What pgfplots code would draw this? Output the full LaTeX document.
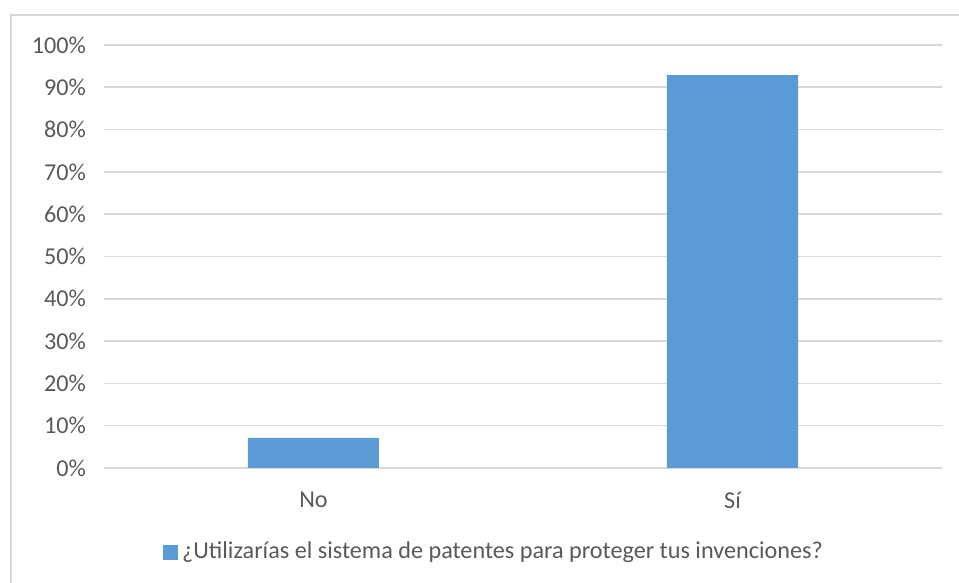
\documentclass[border=0pt]{standalone}
\usepackage{pgfplots}
\pgfplotsset{compat=1.18}
\usepackage{fontspec}
\setmainfont{Carlito}
\definecolor{barblue}{RGB}{91,155,213}
\definecolor{gridgray}{RGB}{217,217,217}
\definecolor{textgray}{RGB}{89,89,89}
\newcommand{\chartfont}{\fontsize{12.1}{14.5}\selectfont}
\begin{document}
\begin{tikzpicture}
\useasboundingbox (0pt,0pt) rectangle (479.5pt,291.5pt);
\begin{scope}
\clip (0pt,0pt) rectangle (479.5pt,291.5pt);
\draw[gridgray, line width=0.8pt] (5.5pt,-5pt) -- (5.5pt,284pt) -- (485pt,284pt);
\end{scope}
\begin{axis}[
  at={(52pt,57.5pt)}, anchor=south west,
  scale only axis,
  width=419pt, height=211.5pt,
  xmin=-0.5, xmax=1.5,
  ymin=0, ymax=100,
  xtick={0,1}, xticklabels={No,Sí},
  ytick={0,10,...,100},
  yticklabel={\pgfmathprintnumber{\tick}\%},
  /pgf/number format/assume math mode=true,
  axis line style={draw=none},
  major tick length=0pt,
  ymajorgrids,
  grid style={gridgray, line width=0.8pt},
  tick label style={font=\chartfont, text=textgray},
  yticklabel style={xshift=-5.5pt},
  xticklabel style={yshift=-8.5pt},
  bar width=65.5pt,
  legend style={at={(axis description cs:0.4666,-0.1986)}, anchor=center, draw=none, font=\chartfont, text=textgray, inner sep=0pt},
  legend image code/.code={\fill[barblue] (0pt,-3.75pt) rectangle (7.5pt,3.75pt);},
  legend cell align=left,
]
\addplot[ybar, fill=barblue, draw=none] coordinates {(0,7.14) (1,92.86)};
\addlegendentry{¿Utilizarías el sistema de patentes para proteger tus invenciones?}
\end{axis}
\end{tikzpicture}
\end{document}
